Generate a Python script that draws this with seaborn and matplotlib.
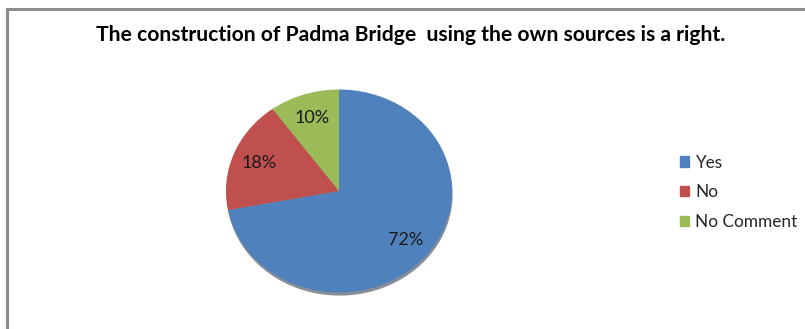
import matplotlib
matplotlib.use("Agg")
import matplotlib.pyplot as plt
import seaborn as sns
from matplotlib.lines import Line2D

categories = ["Yes", "No", "No Comment"]
values = [72, 18, 10]
colors = ["#4F81BD", "#C0504D", "#9BBB59"]
title = "The construction of Padma Bridge  using the own sources is a right."

sns.set_style("white")
plt.rcParams['font.family'] = ['Lato', 'DejaVu Sans']

W, H = 805, 329
fig = plt.figure(figsize=(W / 100, H / 100), dpi=100)

cx, cy, rx, ry = 339, 191, 113, 101.5
ax = fig.add_axes([(cx - rx) / W, (H - cy - ry) / H, 2 * rx / W, 2 * ry / H])
palette = sns.color_palette(colors)
wedges, texts, autotexts = ax.pie(
    values, colors=palette, startangle=90, counterclock=False,
    autopct=lambda p: f"{p:.0f}%", pctdistance=0.76,
    textprops=dict(fontsize=13, color="#1a1a1a"),
    shadow=dict(ox=0.004, oy=-0.022, shade=0.75),
    wedgeprops=dict(linewidth=0),
)
ax.set_aspect('auto')
ax.set_xlim(-1, 1)
ax.set_ylim(-1, 1)

fig.text(411 / W, 1 - 35 / H, title, ha="center", va="center",
         fontsize=15.2, fontweight="bold", color="black")

handles = [plt.Rectangle((0, 0), 1, 1, color=c) for c in palette]
leg = fig.legend(handles, categories, loc="upper left",
                 bbox_to_anchor=(664 / W, 1 - 139 / H), frameon=False,
                 fontsize=12.4, handlelength=0.55, handleheight=0.55,
                 handletextpad=0.35, labelspacing=0.8)

fig.add_artist(Line2D([6.5 / W, 6.5 / W], [0, 1 - 8.5 / H], color="#8c8c8c", lw=2.2))
fig.add_artist(Line2D([6.5 / W, 1], [1 - 8.5 / H, 1 - 8.5 / H], color="#8c8c8c", lw=2.2))

fig.savefig("out.png", dpi=100, facecolor="white")
